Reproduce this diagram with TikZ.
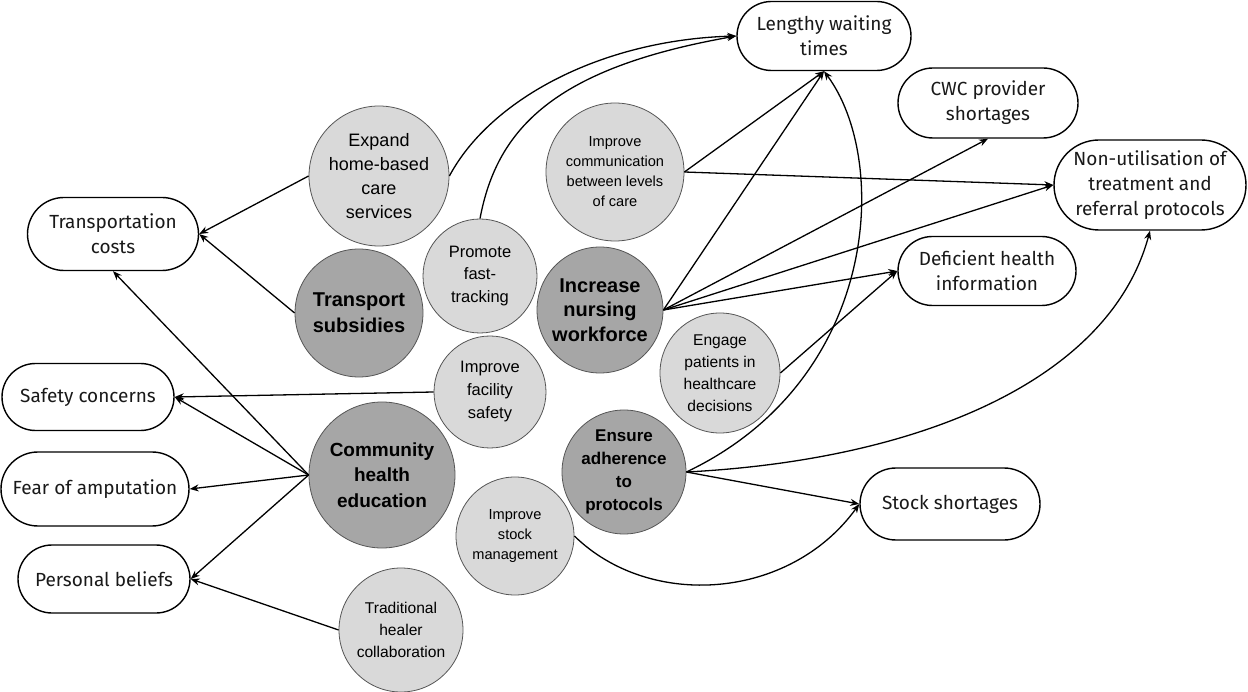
\documentclass[tikz,border=0pt]{standalone}
\usepackage{fontspec}
\setmainfont{Liberation Sans}
\newfontfamily\boxfont{Fira Sans}
\usetikzlibrary{arrows.meta,shapes.misc}
\definecolor{softgray}{HTML}{D9D9D9}
\definecolor{midgray}{HTML}{A6A6A6}
\definecolor{rimgray}{HTML}{555555}
\newcommand{\fs}[2]{\fontsize{#1}{#2}\selectfont}

\begin{document}
\begin{tikzpicture}[x=1pt,y=-1pt,
  outcome/.style={draw=black, line width=1.4pt, rounded rectangle, fill=white,
    align=center, text=black!90, inner sep=0pt, font=\boxfont\fs{19}{25}},
  lightc/.style={circle, draw=rimgray, line width=0.8pt, fill=softgray,
    align=center, inner sep=0pt},
  darkc/.style={circle, draw=rimgray, line width=0.8pt, fill=midgray,
    align=center, inner sep=0pt},
  link/.style={-{Stealth[length=9pt,width=7pt]}, line width=1.3pt}
]
\useasboundingbox (0,0) rectangle (1248,692);

% problem boxes
\node[outcome, minimum width=174pt, minimum height=69pt] (wait) at (824,36) {Lengthy waiting\\times};
\node[outcome, minimum width=180pt, minimum height=70pt] (cwc) at (988,103) {CWC provider\\shortages};
\node[outcome, minimum width=192pt, minimum height=90pt] (nonu) at (1150,185) {Non-utilisation of\\treatment and\\referral protocols};
\node[outcome, minimum width=178pt, minimum height=69pt] (defic) at (987,271) {Deficient health\\information};
\node[outcome, minimum width=180pt, minimum height=72pt] (stock) at (950,504) {Stock shortages};
\node[outcome, minimum width=171pt, minimum height=73pt] (transp) at (113,234) {Transportation\\costs};
\node[outcome, minimum width=172pt, minimum height=67pt] (safety) at (88,397) {Safety concerns};
\node[outcome, minimum width=188pt, minimum height=74pt] (fear) at (95,489) {Fear of amputation};
\node[outcome, minimum width=172pt, minimum height=68pt] (belief) at (104,579) {Personal beliefs};

% intervention circles
\node[lightc, minimum size=140pt, font=\fs{18}{24}] (expand) at (379,176) {Expand\\home-based\\care\\services};
\node[darkc, minimum size=128pt, font=\bfseries\fs{20}{26}] (subsid) at (359,313) {Transport\\subsidies};
\node[lightc, minimum size=114pt, font=\fs{16.5}{22.5}] (fast) at (480,276) {Promote\\fast-\\tracking};
\node[lightc, minimum size=138pt, font=\fs{14.6}{20}] (comm) at (615,172) {Improve\\communication\\between levels\\of care};
\node[darkc, minimum size=126pt, font=\bfseries\fs{20}{24.5}] (nurse) at (600,310) {Increase\\nursing\\workforce};
\node[lightc, minimum size=120pt, font=\fs{15.6}{22}] (engage) at (720,373) {Engage\\patients in\\healthcare\\decisions};
\node[lightc, minimum size=112pt, font=\fs{16.5}{23}] (facil) at (490,392) {Improve\\facility\\safety};
\node[darkc, minimum size=146pt, font=\bfseries\fs{19}{25.7}] (commed) at (382,475) {Community\\health\\education};
\node[darkc, minimum size=124pt, font=\bfseries\fs{17}{22.8}] (ensure) at (624,472) {Ensure\\adherence\\to\\protocols};
\node[lightc, minimum size=118pt, font=\fs{14.6}{20}] (stockm) at (515,536) {Improve\\stock\\management};
\node[lightc, minimum size=124pt, font=\fs{15.6}{21.7}] (healer) at (401,630) {Traditional\\healer\\collaboration};

% links from interventions to problems
\draw[link] (expand.west) -- (transp.east);
\draw[link] (subsid.west) -- (transp.east);
\draw[link] (commed.west) -- (transp.south);
\draw[link] (commed.west) -- (safety.east);
\draw[link] (commed.west) -- (fear.east);
\draw[link] (commed.west) -- (belief.east);
\draw[link] (facil.west) -- (safety.east);
\draw[link] (healer.west) -- (belief.east);
\draw[link] (expand.east) .. controls (490,100) and (600,40) .. (wait.west);
\draw[link] (fast.north) .. controls (497,128) and (555,68) .. (wait.west);
\draw[link] (comm.east) -- (wait.south);
\draw[link] (comm.east) -- (nonu.west);
\draw[link] (nurse.east) -- (wait.south);
\draw[link] (nurse.east) -- (cwc.south);
\draw[link] (nurse.east) -- (nonu.west);
\draw[link] (nurse.east) -- (defic.west);
\draw[link] (engage.east) -- (defic.west);
\draw[link] (ensure.east) .. controls (880,380) and (890,160) .. (wait.south);
\draw[link] (ensure.east) .. controls (920,460) and (1110,380) .. (nonu.south);
\draw[link] (ensure.east) -- (stock.west);
\draw[link] (stockm.east) .. controls (650,610) and (790,600) .. (stock.west);
\end{tikzpicture}
\end{document}
